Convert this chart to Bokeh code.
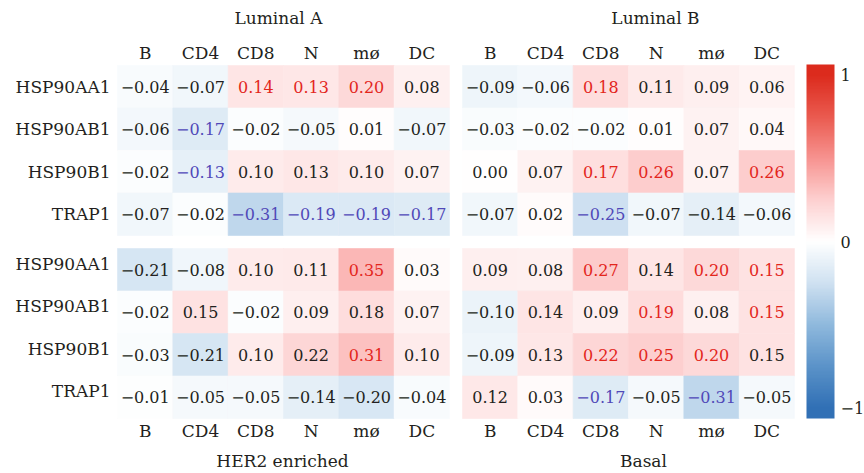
import numpy as np
from bokeh.plotting import figure
from bokeh.models import ColumnDataSource, LinearColorMapper, ColorBar, FixedTicker, Range1d
from bokeh.core.properties import value
from bokeh.embed import file_html
from bokeh.resources import INLINE

# ---- data -------------------------------------------------------------
genes = ["HSP90AA1", "HSP90AB1", "HSP90B1", "TRAP1"]
cell_types = ["B", "CD4", "CD8", "N", "mø", "DC"]
subtypes = ["Luminal A", "Luminal B", "HER2 enriched", "Basal"]

luminal_a = [
    [-0.04, -0.07, 0.14, 0.13, 0.20, 0.08],
    [-0.06, -0.17, -0.02, -0.05, 0.01, -0.07],
    [-0.02, -0.13, 0.10, 0.13, 0.10, 0.07],
    [-0.07, -0.02, -0.31, -0.19, -0.19, -0.17],
]
luminal_b = [
    [-0.09, -0.06, 0.18, 0.11, 0.09, 0.06],
    [-0.03, -0.02, -0.02, 0.01, 0.07, 0.04],
    [0.00, 0.07, 0.17, 0.26, 0.07, 0.26],
    [-0.07, 0.02, -0.25, -0.07, -0.14, -0.06],
]
her2_enriched = [
    [-0.21, -0.08, 0.10, 0.11, 0.35, 0.03],
    [-0.02, 0.15, -0.02, 0.09, 0.18, 0.07],
    [-0.03, -0.21, 0.10, 0.22, 0.31, 0.10],
    [-0.01, -0.05, -0.05, -0.14, -0.20, -0.04],
]
basal = [
    [0.09, 0.08, 0.27, 0.14, 0.20, 0.15],
    [-0.10, 0.14, 0.09, 0.19, 0.08, 0.15],
    [-0.09, 0.13, 0.22, 0.25, 0.20, 0.15],
    [0.12, 0.03, -0.17, -0.05, -0.31, -0.05],
]

# 1 = significant correlation (value printed in colour)
luminal_a_sig = [
    [0, 0, 1, 1, 1, 0],
    [0, 1, 0, 0, 0, 0],
    [0, 1, 0, 0, 0, 0],
    [0, 0, 1, 1, 1, 1],
]
luminal_b_sig = [
    [0, 0, 1, 0, 0, 0],
    [0, 0, 0, 0, 0, 0],
    [0, 0, 1, 1, 0, 1],
    [0, 0, 1, 0, 0, 0],
]
her2_enriched_sig = [
    [0, 0, 0, 0, 1, 0],
    [0, 0, 0, 0, 0, 0],
    [0, 0, 0, 0, 1, 0],
    [0, 0, 0, 0, 0, 0],
]
basal_sig = [
    [0, 0, 1, 0, 1, 1],
    [0, 0, 0, 1, 0, 1],
    [0, 0, 1, 1, 1, 0],
    [0, 0, 1, 0, 1, 0],
]

colorbar_ticks = [-1, 0, 1]

# ---- layout (pixels) --------------------------------------------------
W, H = 864, 473
CELL_W, ROW_H = 55.33, 42.5
LEFT, TOP = 117, 65
GAP_X, GAP_Y = 13, 13
FONT_NAME = "DejaVu Serif"
FONT = value(FONT_NAME)
FS_NUM = "16px"
FS = "17px"
INK = "#231f20"
RED_TXT = "#e3261c"
BLUE_TXT = "#5048b8"

gx = GAP_X / CELL_W
gy = GAP_Y / ROW_H
nc, nr = len(cell_types), len(genes)

# ---- colour scale -----------------------------------------------------
stops_v = [-1.0, -0.75, -0.5, -0.25, 0.0, 0.25, 0.5, 0.75, 1.0]
stops_c = ["#3170b5", "#5b93c9", "#8fb9dd", "#cfe1f1", "#ffffff",
           "#fdd0d0", "#f79390", "#ea5a4f", "#dc2b1d"]
LOW, HIGH = -1.06, 1.06


def hex2rgb(h):
    return [int(h[i:i + 2], 16) for i in (1, 3, 5)]


rgb = np.array([hex2rgb(c) for c in stops_c], dtype=float)
vv = np.clip(np.linspace(LOW, HIGH, 256), -1, 1)
palette = []
for v in vv:
    r, g, b = (np.interp(v, stops_v, rgb[:, k]) for k in range(3))
    palette.append("#%02x%02x%02x" % (int(round(r)), int(round(g)), int(round(b))))

mapper = LinearColorMapper(palette=palette, low=LOW, high=HIGH)

# ---- figure -----------------------------------------------------------
p = figure(width=W, height=H, output_backend="svg", toolbar_location=None,
           x_range=Range1d(-LEFT / CELL_W, (W - LEFT) / CELL_W),
           y_range=Range1d((H - TOP) / ROW_H, -TOP / ROW_H),
           x_axis_type=None, y_axis_type=None, min_border=0)
p.grid.visible = False
p.outline_line_color = None
p.background_fill_color = "white"

panels = [
    # values, significance, column offset, row offset, header side, row labels, title shift(px)
    (luminal_a, luminal_a_sig, 0.0, 0.0, "top", True, -5),
    (luminal_b, luminal_b_sig, nc + gx, 0.0, "top", False, 27),
    (her2_enriched, her2_enriched_sig, 0.0, nr + gy, "bottom", True, -1),
    (basal, basal_sig, nc + gx, nr + gy, "bottom", False, 15),
]

for k, (vals, sig, ox, oy, side, show_rows, tshift) in enumerate(panels):
    xs, ys, vs, labels, tcol = [], [], [], [], []
    for i in range(nr):
        for j in range(nc):
            v = vals[i][j]
            xs.append(ox + j + 0.5)
            ys.append(oy + i + 0.5)
            vs.append(v)
            labels.append(("%.2f" % v).replace("-", "\u2212"))
            if sig[i][j]:
                tcol.append(RED_TXT if v > 0 else BLUE_TXT)
            else:
                tcol.append(INK)
    src = ColumnDataSource(dict(x=xs, y=ys, v=vs, label=labels, tcol=tcol))
    p.rect("x", "y", width=1, height=1, source=src,
           fill_color={"field": "v", "transform": mapper},
           line_color={"field": "v", "transform": mapper}, line_width=0.6)
    p.text("x", "y", text="label", source=src, text_color="tcol",
           text_font=FONT, text_font_size=FS_NUM,
           text_align="center", text_baseline="middle")

    # column headers and panel title
    if side == "top":
        hy, ty = oy - 13 / ROW_H, oy - 48 / ROW_H
    else:
        hy, ty = oy + nr + 12 / ROW_H, oy + nr + 42 / ROW_H
    p.text([ox + j + 0.5 for j in range(nc)], [hy] * nc, text=cell_types,
           text_font=FONT, text_font_size=FS, text_color=INK,
           text_align="center", text_baseline="middle")
    p.text([ox + nc / 2], [ty], text=[subtypes[k]], x_offset=tshift,
           text_font=FONT, text_font_size=FS, text_color=INK,
           text_align="center", text_baseline="middle")

    if show_rows:
        p.text([ox - 7 / CELL_W] * nr, [oy + i + 0.5 for i in range(nr)], text=genes,
               y_offset=0 if side == "top" else -6,
               text_font=FONT, text_font_size=FS, text_color=INK,
               text_align="right", text_baseline="middle")

# ---- colour bar -------------------------------------------------------
cb = ColorBar(color_mapper=mapper, ticker=FixedTicker(ticks=colorbar_ticks),
              major_label_overrides={-1: "\u22121", 0: "0", 1: "1"},
              width=28, height=354, padding=0, margin=0, label_standoff=6,
              location=(806, 55),
              major_tick_line_color=None, minor_tick_line_color=None,
              bar_line_color=None, border_line_color=None,
              background_fill_alpha=0,
              major_label_text_font=FONT_NAME,
              major_label_text_font_size="16px", major_label_text_color=INK)
p.add_layout(cb, "center")

open("out.html", "w").write(file_html(p, INLINE))
